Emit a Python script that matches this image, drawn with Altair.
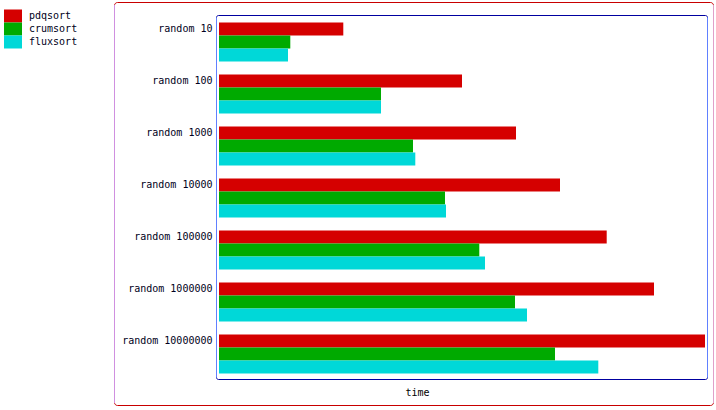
import altair as alt
import pandas as pd

categories = ["random 10", "random 100", "random 1000", "random 10000",
              "random 100000", "random 1000000", "random 10000000"]
series = ["pdqsort", "crumsort", "fluxsort"]
pdqsort = [124.3, 243, 297, 341, 387.7, 435, 486]
crumsort = [71.3, 162, 194, 226, 260.3, 296, 336]
fluxsort = [69, 162, 196.3, 227, 266, 308, 379.3]
colors = ["#d50000", "#00aa00", "#00d8d8"]

rows = []
for s, vals in zip(series, [pdqsort, crumsort, fluxsort]):
    for c, v in zip(categories, vals):
        rows.append({"test": c, "sort": s, "time": v})
df = pd.DataFrame(rows)

FONT = "DejaVu Sans Mono"
W, H = 491, 364

bars = alt.Chart(df).mark_bar(opacity=1).encode(
    x=alt.X("time:Q", scale=alt.Scale(domain=[-2, 489], nice=False, zero=False),
            axis=alt.Axis(labels=False, ticks=False, domain=False, grid=False,
                          title="time", titleX=200, titleY=15, titleAlign="center",
                          titleBaseline="alphabetic", titleFont=FONT,
                          titleFontSize=10, titleFontWeight="normal",
                          titleColor="#000000")),
    y=alt.Y("test:N", sort=categories,
            scale=alt.Scale(paddingInner=0.25, paddingOuter=0.125),
            axis=alt.Axis(title=None, ticks=False, domain=False, grid=False,
                          labelFont=FONT, labelFontSize=10, labelColor="#000020",
                          labelPadding=5, labelOffset=-13)),
    yOffset=alt.YOffset("sort:N", sort=series,
                        scale=alt.Scale(paddingInner=0, paddingOuter=0)),
    color=alt.Color("sort:N", sort=series,
                    scale=alt.Scale(domain=series, range=colors),
                    legend=alt.Legend(title=None, orient="none", legendX=-209,
                                      legendY=-5, labelFont=FONT, labelFontSize=10,
                                      labelColor="#000020", labelOffset=11,
                                      symbolType="M-2.25,-1.625H2.25V1.625H-2.25Z",
                                      symbolSize=64, symbolStrokeWidth=0,
                                      symbolOpacity=1, rowPadding=-1)),
)

one = pd.DataFrame({"a": [0]})

outer = alt.Chart(one).mark_rect(fill=None, stroke="#c80000", strokeWidth=1,
                                 cornerRadius=3).encode(
    x=alt.value(-102.5), x2=alt.value(496.5), y=alt.value(-13.5), y2=alt.value(389.5))
outer_l = alt.Chart(one).mark_rule(color="#d090e0", strokeWidth=1).encode(
    x=alt.value(-102.5), y=alt.value(-11), y2=alt.value(387))
outer_r = alt.Chart(one).mark_rule(color="#e0a0c8", strokeWidth=1).encode(
    x=alt.value(496.5), y=alt.value(-11), y2=alt.value(387))

inner = alt.Chart(one).mark_rect(fill=None, stroke="#0000a0", strokeWidth=1,
                                 cornerRadius=2).encode(
    x=alt.value(-0.5), x2=alt.value(490.5), y=alt.value(-0.5), y2=alt.value(363.5))
inner_l = alt.Chart(one).mark_rule(color="#6080ff", strokeWidth=1).encode(
    x=alt.value(-0.5), y=alt.value(1.5), y2=alt.value(361.5))
inner_r = alt.Chart(one).mark_rule(color="#6080ff", strokeWidth=1).encode(
    x=alt.value(490.5), y=alt.value(1.5), y2=alt.value(361.5))

chart = alt.layer(outer, outer_l, outer_r, bars, inner, inner_l, inner_r).properties(
    width=W, height=H,
    autosize=alt.AutoSizeParams(type="none"),
    padding={"left": 217, "top": 16, "right": 8, "bottom": 30},
    background="white",
).configure_view(stroke=None).configure_legend(rowPadding=-1)

chart.save("out.html", embed_options={"renderer": "svg", "actions": False})
